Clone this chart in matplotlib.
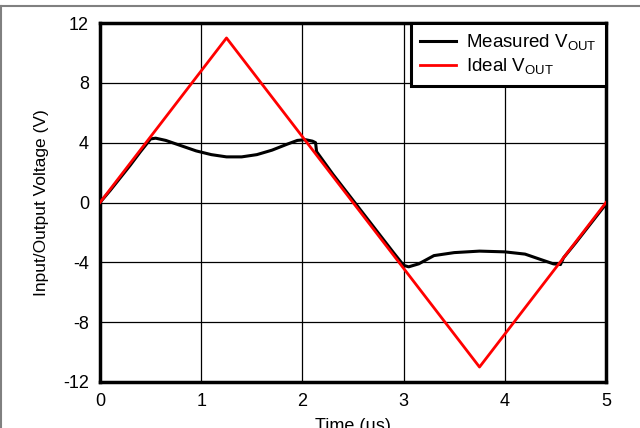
import numpy as np
import matplotlib.pyplot as plt
from matplotlib.lines import Line2D

plt.rcParams['font.family'] = ['Liberation Sans', 'DejaVu Sans']
plt.rcParams['axes.unicode_minus'] = False

# ideal triangle output
ideal_t = [0, 1.25, 3.75, 5.0]
ideal_v = [0, 11.0, -11.0, 0]

# measured output (clipped)
meas_t = [0, 0.1, 0.2, 0.3, 0.4, 0.5, 0.55, 0.65, 0.8, 0.95, 1.1, 1.25, 1.4, 1.55, 1.7, 1.85, 1.95, 2.03, 2.1, 2.13, 2.14,
          2.3, 2.5, 2.7, 2.9, 3.0, 3.05, 3.15, 3.3, 3.5, 3.75, 4.0, 4.2, 4.35, 4.48, 4.55, 4.58, 4.7, 4.85, 5.0]
meas_v = [0, 0.8, 1.65, 2.5, 3.4, 4.25, 4.3, 4.15, 3.8, 3.45, 3.2, 3.05, 3.05, 3.2, 3.5, 3.9, 4.15, 4.2, 4.1, 4.0, 3.4,
          1.9, 0.15, -1.6, -3.35, -4.2, -4.3, -4.1, -3.55, -3.35, -3.25, -3.3, -3.45, -3.8, -4.1, -4.15, -3.7, -2.7, -1.4, -0.1]

fig = plt.figure(figsize=(6.4, 4.28), dpi=100)
ax = fig.add_axes([100/640, 1-382/428, 506/640, 359/428])

ax.plot(meas_t, meas_v, color='black', lw=2.2, label='Measured V$_\\mathregular{OUT}$', zorder=3)
ax.plot(ideal_t, ideal_v, color='#ff0000', lw=2.0, label='Ideal V$_\\mathregular{OUT}$', zorder=4)

ax.set_xlim(0, 5)
ax.set_ylim(-12, 12)
ax.set_xticks([0, 1, 2, 3, 4, 5])
ax.set_yticks([-12, -8, -4, 0, 4, 8, 12])
ax.grid(True, color='black', lw=0.9)
ax.tick_params(length=0, labelsize=13, pad=8)
for s in ax.spines.values():
    s.set_linewidth(2.5)
ax.set_xlabel('Time (µs)', fontsize=13, labelpad=6)
ax.set_ylabel('Input/Output Voltage (V)', fontsize=12.5, labelpad=10)

leg = ax.legend(loc='upper right', fontsize=13.5, frameon=True, fancybox=False,
                borderaxespad=0, handlelength=1.9, handletextpad=0.55,
                borderpad=0.5, labelspacing=0.2)
leg.get_frame().set_edgecolor('black')
leg.get_frame().set_linewidth(2.2)
leg.get_frame().set_alpha(1)

# outer page border
fig.add_artist(Line2D([0, 1], [1-6/428, 1-6/428], color='#808080', lw=1.5, transform=fig.transFigure))
fig.add_artist(Line2D([0.5/640, 0.5/640], [0, 1-6/428], color='#808080', lw=1.5, transform=fig.transFigure))

fig.savefig('out.png', dpi=100)
